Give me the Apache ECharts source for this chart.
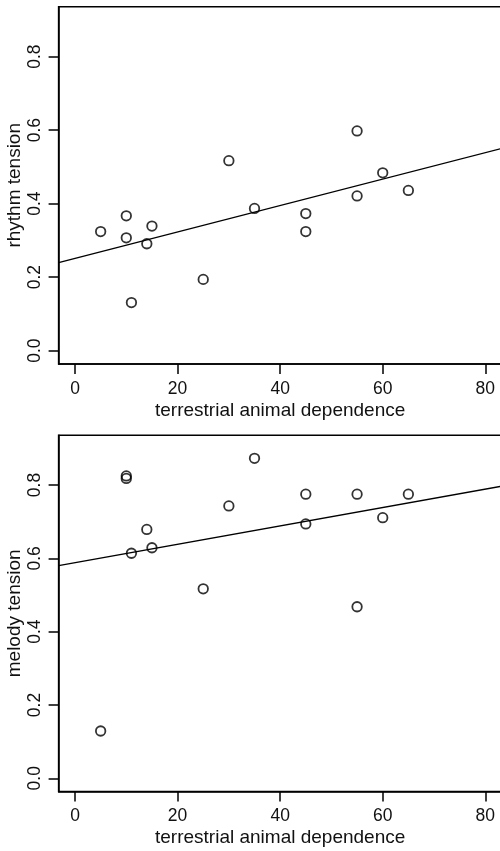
<!DOCTYPE html>
<html>
<head>
<meta charset="utf-8">
<script src="https://cdn.jsdelivr.net/npm/echarts@6/dist/echarts.min.js"></script>
<style>
html,body{margin:0;padding:0;background:#fff;}
#chart{width:500px;height:851px;}
</style>
</head>
<body>
<div id="chart"></div>
<script>
// Data
var dependence = [5, 10, 10, 14, 15, 11, 25, 30, 35, 45, 45, 55, 55, 60, 65];
var rhythmTension = [0.324, 0.367, 0.307, 0.291, 0.339, 0.131, 0.194, 0.517, 0.387, 0.373, 0.324, 0.598, 0.421, 0.484, 0.436];
var melodyDependence = [5, 10, 10, 14, 15, 11, 25, 30, 35, 45, 45, 55, 55, 60, 65];
var melodyTension = [0.129, 0.825, 0.818, 0.679, 0.629, 0.614, 0.517, 0.743, 0.873, 0.775, 0.694, 0.775, 0.468, 0.711, 0.775];
var xTicks = [0, 20, 40, 60, 80];
var yTicks = [0, 0.2, 0.4, 0.6, 0.8];
var xTitle = 'terrestrial animal dependence';
var yTitles = ['rhythm tension', 'melody tension'];

var X_MIN = -3.2, X_MAX = 83.2, Y_MIN = -0.036, Y_MAX = 0.936;

function fit(xs, ys) {
  var n = xs.length, mx = 0, my = 0;
  for (var i = 0; i < n; i++) { mx += xs[i]; my += ys[i]; }
  mx /= n; my /= n;
  var sxy = 0, sxx = 0;
  for (var j = 0; j < n; j++) { sxy += (xs[j]-mx)*(ys[j]-my); sxx += (xs[j]-mx)*(xs[j]-mx); }
  var b = sxy / sxx, a = my - b*mx;
  return [[X_MIN, a + b*X_MIN], [X_MAX, a + b*X_MAX]];
}
function pairs(xs, ys) { return xs.map(function (x, i) { return [x, ys[i]]; }); }

var font = 'Liberation Sans, Arial, sans-serif';
function xAxisCfg(gi) {
  return {
    type: 'value', gridIndex: gi, min: X_MIN, max: X_MAX,
    axisLine: { show: true, onZero: false, lineStyle: { color: '#000', width: 1.5 } },
    axisTick: { show: true, customValues: xTicks, length: 10, lineStyle: { color: '#000', width: 1.5 } },
    axisLabel: { customValues: xTicks, fontSize: 17.5, color: '#111', fontFamily: font, margin: 16,
                 showMinLabel: true, showMaxLabel: true, hideOverlap: false },
    splitLine: { show: false },
    name: xTitle, nameLocation: 'middle', nameGap: 37, nameMoveOverlap: false,
    nameTextStyle: { fontSize: 19, color: '#111', fontFamily: font }
  };
}
function yAxisCfg(gi) {
  return {
    type: 'value', gridIndex: gi, min: Y_MIN, max: Y_MAX,
    axisLine: { show: true, onZero: false, lineStyle: { color: '#000', width: 1.5 } },
    axisTick: { show: true, customValues: yTicks, length: 10, lineStyle: { color: '#000', width: 1.5 } },
    axisLabel: { customValues: yTicks, rotate: 90, fontSize: 17.5, color: '#111', fontFamily: font, margin: 14,
                 formatter: function (v) { return v.toFixed(1); } },
    splitLine: { show: false },
    name: yTitles[gi], nameLocation: 'middle', nameGap: 34, nameRotate: 90, nameMoveOverlap: false,
    nameTextStyle: { fontSize: 19, color: '#111', fontFamily: font }
  };
}
function scatterCfg(gi, data) {
  return {
    type: 'scatter', xAxisIndex: gi, yAxisIndex: gi, data: data,
    symbol: 'circle', symbolSize: 9.5,
    itemStyle: { color: 'rgba(0,0,0,0)', borderColor: '#000', borderWidth: 1.8 },
    emphasis: { disabled: true }, silent: true
  };
}
function lineCfg(gi, data) {
  return {
    type: 'line', xAxisIndex: gi, yAxisIndex: gi, data: data,
    showSymbol: false, clip: true,
    lineStyle: { color: '#000', width: 1.4 },
    emphasis: { disabled: true }, silent: true
  };
}

var gridBase = { left: 58.6, width: 443.1, show: true, borderColor: '#000', borderWidth: 1.5,
                 backgroundColor: 'transparent', containLabel: false, outerBoundsMode: 'none' };
var chart = echarts.init(document.getElementById('chart'), null, { renderer: 'canvas' });
chart.setOption({
  animation: false,
  backgroundColor: '#fff',
  grid: [
    Object.assign({}, gridBase, { top: 6.7, height: 357.2 }),
    Object.assign({}, gridBase, { top: 435.2, height: 356.3 })
  ],
  xAxis: [xAxisCfg(0), xAxisCfg(1)],
  yAxis: [yAxisCfg(0), yAxisCfg(1)],
  series: [
    lineCfg(0, fit(dependence, rhythmTension)),
    scatterCfg(0, pairs(dependence, rhythmTension)),
    lineCfg(1, fit(melodyDependence, melodyTension)),
    scatterCfg(1, pairs(melodyDependence, melodyTension))
  ]
});
</script>
</body>
</html>
